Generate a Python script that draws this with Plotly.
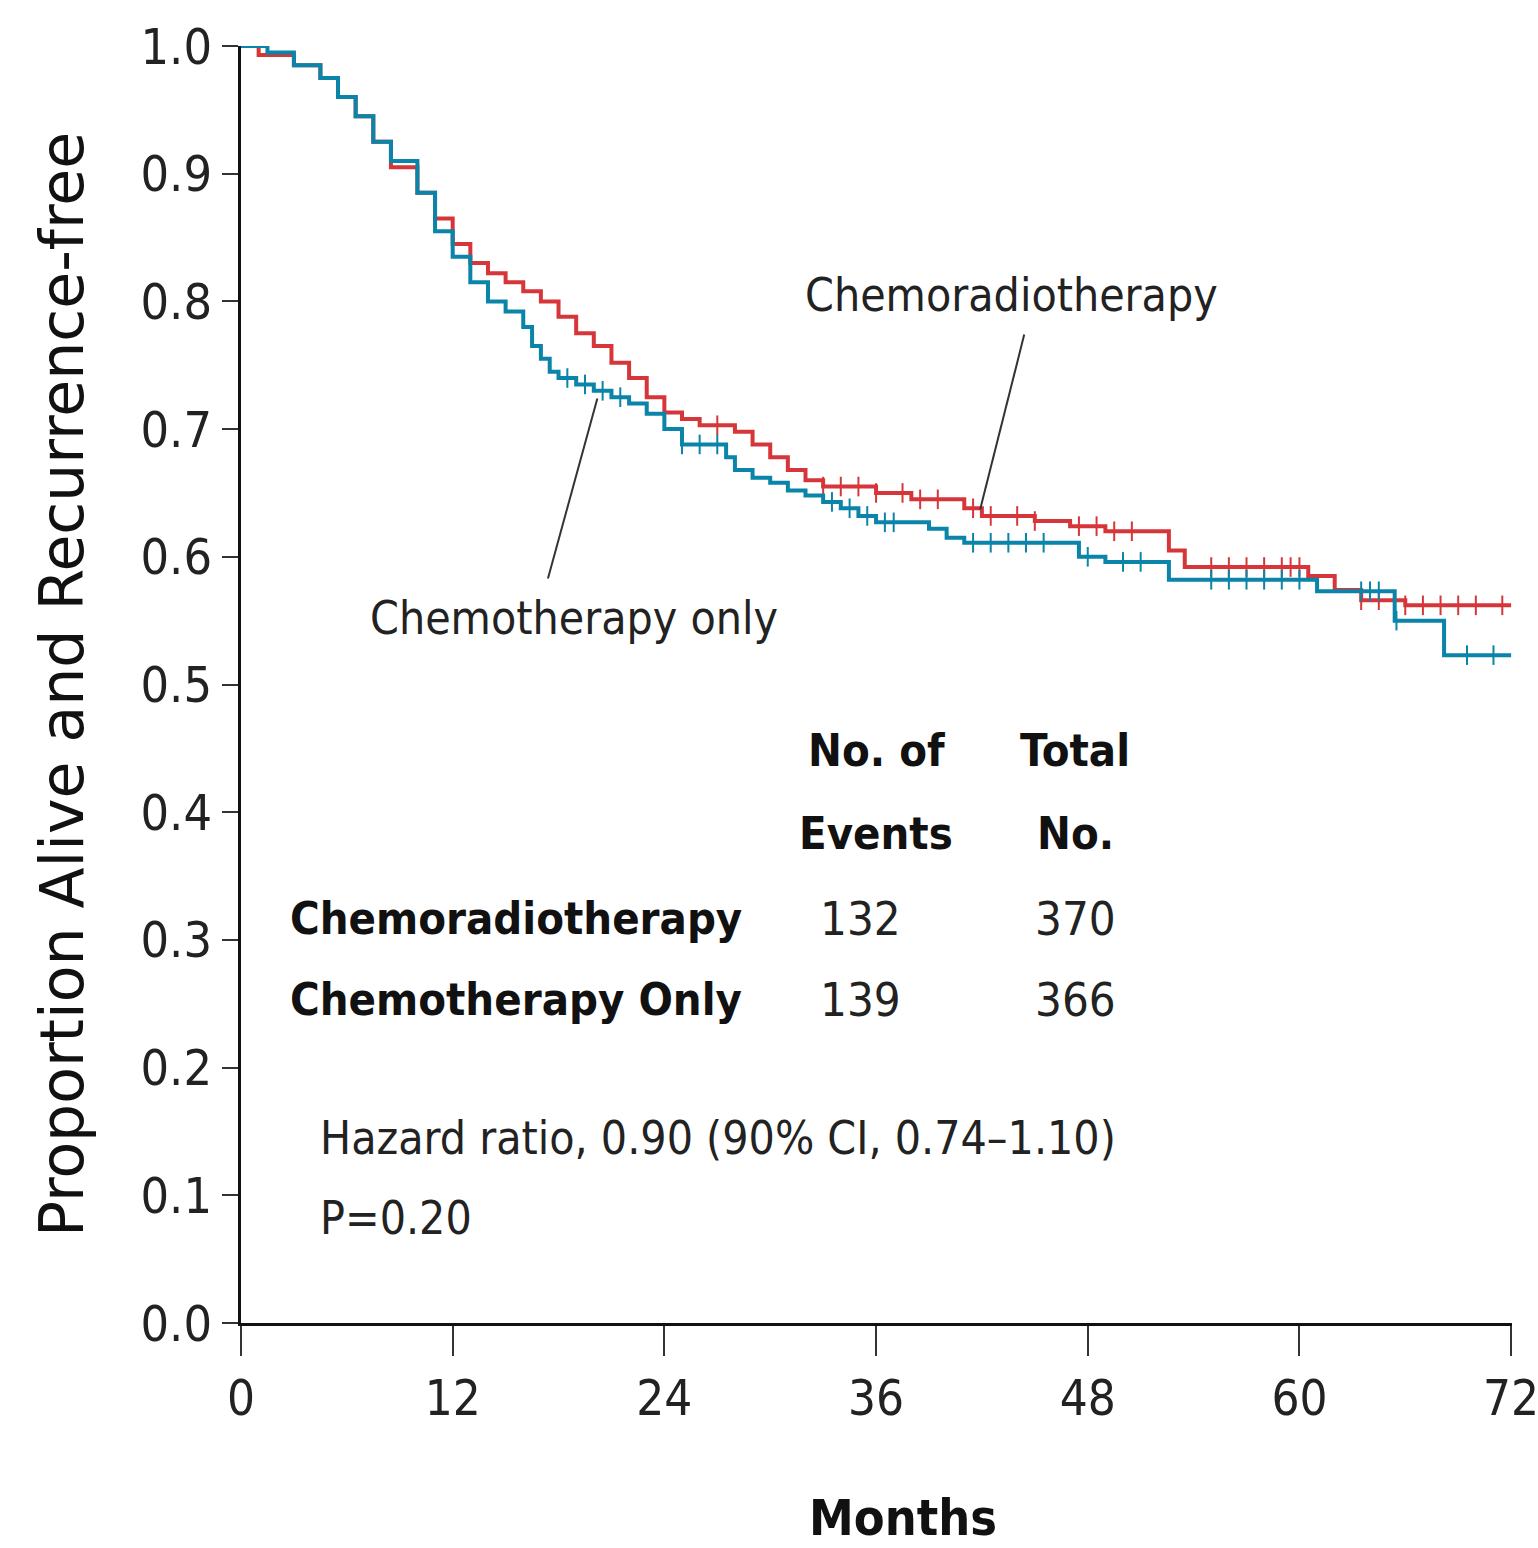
import plotly.graph_objects as go

# ---------------- data ----------------
months_crt = [0, 1, 3, 4.5, 5.5, 6.5, 7.5, 8.5, 10, 11, 12, 13, 14, 15, 16, 17, 18, 19, 20, 21, 22,
              23, 24, 25, 26, 28, 29, 30, 31, 32, 33, 36, 38, 41, 42, 45, 47, 49, 52.6, 53.5, 60.5,
              62, 63.5, 66, 72]
surv_crt = [1.0, 0.993, 0.985, 0.975, 0.96, 0.945, 0.925, 0.905, 0.885, 0.865, 0.845, 0.83, 0.822,
            0.815, 0.808, 0.80, 0.788, 0.775, 0.765, 0.752, 0.74, 0.725, 0.713, 0.708, 0.703, 0.698,
            0.688, 0.678, 0.668, 0.66, 0.655, 0.65, 0.645, 0.638, 0.632, 0.628, 0.624, 0.62, 0.605,
            0.592, 0.585, 0.574, 0.566, 0.562, 0.562]

months_chemo = [0, 1.5, 3, 4.5, 5.5, 6.5, 7.5, 8.5, 10, 11, 12, 13, 14, 15, 16, 16.5, 17, 17.5, 18,
                19, 20, 21, 22, 23, 24, 25, 27.5, 28, 29, 30, 31, 32, 33, 34, 35, 36, 39, 40, 41,
                47.5, 49, 52.6, 61, 65.4, 68.2, 72]
surv_chemo = [1.0, 0.995, 0.985, 0.975, 0.96, 0.945, 0.925, 0.91, 0.885, 0.855, 0.835, 0.815, 0.80,
              0.792, 0.78, 0.765, 0.755, 0.745, 0.74, 0.735, 0.73, 0.725, 0.72, 0.712, 0.70, 0.688,
              0.678, 0.668, 0.662, 0.658, 0.652, 0.648, 0.643, 0.638, 0.632, 0.627, 0.622, 0.615,
              0.611, 0.60, 0.596, 0.582, 0.573, 0.55, 0.523, 0.523]

censor_crt = [27, 33, 34, 35, 36, 37.5, 38.5, 39.5, 41.5, 42.5, 44, 45, 47.5, 48.5, 49.5, 50.5,
              55, 56, 57, 58, 59, 59.5, 60, 63.5, 64.5, 66, 67, 68, 69, 70, 71.5]
censor_chemo = [18.5, 19.5, 20.5, 21.5, 25, 26, 27, 33.5, 34.5, 35.5, 36.5, 37, 41.5, 42.5,
                43.5, 44.5, 45.5, 48, 50, 51, 55, 56, 57, 58, 59, 60, 63.5, 64, 64.5, 65.5,
                69.5, 71]

x_ticks = [0, 12, 24, 36, 48, 60, 72]
y_ticks = [0.0, 0.1, 0.2, 0.3, 0.4, 0.5, 0.6, 0.7, 0.8, 0.9, 1.0]
y_tick_labels = ["0.0", "0.1", "0.2", "0.3", "0.4", "0.5", "0.6", "0.7", "0.8", "0.9", "1.0"]

table_groups = ["Chemoradiotherapy", "Chemotherapy Only"]
table_events = [132, 139]
table_totals = [370, 366]

RED = "#d6363a"
BLUE = "#0a84a8"
NARROW = "Liberation Sans Narrow, DejaVu Sans Condensed, Arial Narrow, sans-serif"


def step_value(times, values, t):
    v = values[0]
    for ti, vi in zip(times, values):
        if ti <= t:
            v = vi
        else:
            break
    return v


fig = go.Figure()
for times, vals, cens, col in [(months_crt, surv_crt, censor_crt, RED),
                               (months_chemo, surv_chemo, censor_chemo, BLUE)]:
    fig.add_trace(go.Scatter(x=times, y=vals, mode="lines", line=dict(color=col, width=4, shape="hv"),
                             showlegend=False, hoverinfo="skip"))
    fig.add_trace(go.Scatter(x=cens, y=[step_value(times, vals, c) for c in cens], mode="markers",
                             marker=dict(symbol="line-ns", size=14, line=dict(color=col, width=2)),
                             showlegend=False, hoverinfo="skip"))

# leader lines for the curve labels
fig.add_shape(type="line", x0=44.4, y0=0.774, x1=41.9, y1=0.637, line=dict(color="#333", width=2))
fig.add_shape(type="line", x0=17.4, y0=0.583, x1=20.2, y1=0.724, line=dict(color="#333", width=2))

ann = []
LBL = dict(size=46, family=NARROW, color="#222")
ann.append(dict(x=43.7, y=0.805, text="Chemoradiotherapy", font=LBL))
ann.append(dict(x=18.9, y=0.552, text="Chemotherapy only", font=LBL))

HB = dict(size=45, family=NARROW, color="#111")
NUM = dict(size=47, family=NARROW, color="#222")
ann.append(dict(x=36.0, y=0.448, text="<b>No. of</b>", font=HB))
ann.append(dict(x=36.0, y=0.383, text="<b>Events</b>", font=HB))
ann.append(dict(x=47.3, y=0.448, text="<b>Total</b>", font=HB))
ann.append(dict(x=47.3, y=0.383, text="<b>No.</b>", font=HB))
row_y = [0.317, 0.253]
for g, e, t, yy in zip(table_groups, table_events, table_totals, row_y):
    ann.append(dict(x=2.65, y=yy, text="<b>" + g + "</b>", xanchor="left", font=HB))
    ann.append(dict(x=35.1, y=yy, text=str(e), font=NUM))
    ann.append(dict(x=47.3, y=yy, text=str(t), font=NUM))

ann.append(dict(x=4.35, y=0.145, text="Hazard ratio, 0.90 (90% CI, 0.74\u20131.10)", xanchor="left",
                font=LBL))
ann.append(dict(x=4.35, y=0.082, text="P=0.20", xanchor="left", font=LBL))

for a in ann:
    a.setdefault("xanchor", "center")
    a.update(xref="x", yref="y", showarrow=False, yanchor="middle")

# x-axis title placed as in the reference (slightly right of centre)
ann.append(dict(x=37.5, xref="x", y=-0.153, yref="paper", text="<b>Months</b>", showarrow=False,
                xanchor="center", yanchor="middle", font=dict(size=50, family=NARROW, color="#111")))

fig.update_layout(
    width=1538, height=1548,
    margin=dict(l=241, r=26, t=46, b=225),
    paper_bgcolor="white", plot_bgcolor="white",
    annotations=ann,
    xaxis=dict(range=[0, 72.05], tickvals=x_ticks, ticktext=[str(v) for v in x_ticks],
               showgrid=False, zeroline=False, showline=True, linecolor="#111", linewidth=3,
               ticks="outside", ticklen=30, tickwidth=2, tickcolor="#333",
               tickfont=dict(size=49, family=NARROW, color="#222"),
               ticklabeloverflow="allow",
               automargin=False),
    yaxis=dict(range=[0, 1.0], tickvals=y_ticks, ticktext=y_tick_labels,
               showgrid=False, zeroline=False, showline=True, linecolor="#111", linewidth=3,
               ticks="outside", ticklen=16, tickwidth=2, tickcolor="#333",
               tickfont=dict(size=50, family=NARROW, color="#222"),
               title=dict(text="Proportion Alive and Recurrence-free",
                          font=dict(size=60, family="DejaVu Sans", color="#111"), standoff=38),
               automargin=False),
)

fig.write_html("out.html")
